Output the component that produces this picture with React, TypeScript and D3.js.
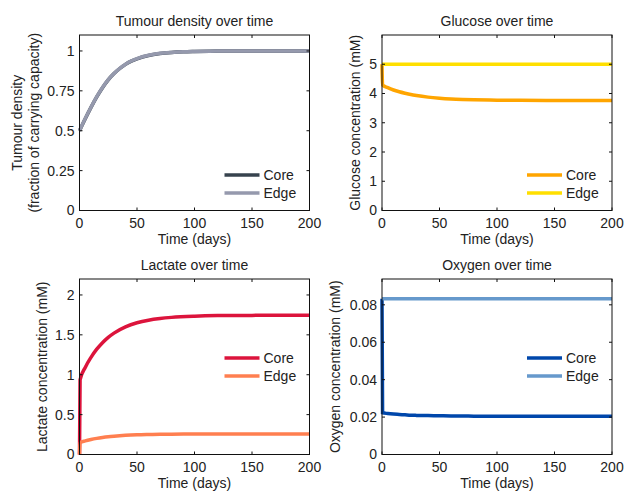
import React from "react";
import * as d3 from "d3";

// ---- data ----
const tumourDays = [0, 5, 10, 15, 20, 25, 30, 35, 40, 45, 50, 60, 70, 80, 90, 100, 120, 140, 160, 180, 200];
const tumourCore = [0.5, 0.575, 0.646, 0.712, 0.77, 0.819, 0.858, 0.89, 0.916, 0.936, 0.951, 0.972, 0.984, 0.991, 0.995, 0.997, 0.999, 1, 1, 1, 1];
const tumourEdge = [0.5, 0.576, 0.647, 0.713, 0.771, 0.82, 0.859, 0.891, 0.917, 0.937, 0.952, 0.973, 0.985, 0.991, 0.995, 0.997, 0.999, 1, 1, 1, 1];

const solDays = [0, 0.5, 5, 10, 15, 20, 25, 30, 40, 50, 60, 70, 80, 100, 120, 150, 200];
const glucoseCore = [5, 4.29, 4.2, 4.12, 4.06, 4.01, 3.965, 3.93, 3.876, 3.84, 3.814, 3.797, 3.785, 3.772, 3.765, 3.762, 3.76];
const glucoseEdge = [5, 5, 5, 5, 5, 5, 5, 5, 5, 5, 5, 5, 5, 5, 5, 5, 5];
const lactateCore = [0, 0.935, 1.092, 1.218, 1.32, 1.402, 1.469, 1.522, 1.6, 1.651, 1.684, 1.705, 1.719, 1.734, 1.741, 1.744, 1.745];
const lactateEdge = [0, 0.148, 0.17, 0.188, 0.202, 0.213, 0.222, 0.229, 0.24, 0.247, 0.251, 0.254, 0.255, 0.257, 0.258, 0.258, 0.258];
const oxygenCore = [0.0832, 0.0223, 0.0219, 0.0216, 0.0214, 0.0212, 0.021, 0.0209, 0.0208, 0.0207, 0.0206, 0.0206, 0.0205, 0.0205, 0.0205, 0.0205, 0.0205];
const oxygenEdge = [0.0832, 0.0832, 0.0832, 0.0832, 0.0832, 0.0832, 0.0832, 0.0832, 0.0832, 0.0832, 0.0832, 0.0832, 0.0832, 0.0832, 0.0832, 0.0832, 0.0832];

const xTicks = [0, 50, 100, 150, 200];
const seriesNames = ["Core", "Edge"];

const FONT = "'Liberation Sans', Arial, Helvetica, sans-serif";

type Panel = {
  title: string;
  ylabel: string[];
  ylabelOffsets: number[];
  days: number[];
  core: number[];
  edge: number[];
  colors: [string, string];
  yMax: number;
  yTicks: number[];
  yFmt: (v: number) => string;
  left: number;
  top: number;
  legendY: number;
};

const W = 230;
const H = 175.5;

const panels: Panel[] = [
  {
    title: "Tumour density over time",
    ylabel: ["Tumour density", "(fraction of carrying capacity)"],
    ylabelOffsets: [-58, -41],
    days: tumourDays,
    core: tumourCore,
    edge: tumourEdge,
    colors: ["#37434e", "#9599ad"],
    yMax: 1.1,
    yTicks: [0, 0.25, 0.5, 0.75, 1],
    yFmt: (v) => String(v),
    left: 79.5,
    top: 35,
    legendY: 140,
  },
  {
    title: "Glucose over time",
    ylabel: ["Glucose concentration (mM)"],
    ylabelOffsets: [-22],
    days: solDays,
    core: glucoseCore,
    edge: glucoseEdge,
    colors: ["#ffa500", "#ffdf00"],
    yMax: 6,
    yTicks: [0, 1, 2, 3, 4, 5],
    yFmt: (v) => String(v),
    left: 382,
    top: 35,
    legendY: 140,
  },
  {
    title: "Lactate over time",
    ylabel: ["Lactate concentration (mM)"],
    ylabelOffsets: [-33],
    days: solDays,
    core: lactateCore,
    edge: lactateEdge,
    colors: ["#dc143c", "#ff7f50"],
    yMax: 2.2,
    yTicks: [0, 0.5, 1, 1.5, 2],
    yFmt: (v) => String(v),
    left: 79.5,
    top: 279,
    legendY: 79,
  },
  {
    title: "Oxygen over time",
    ylabel: ["Oxygen concentration (mM)"],
    ylabelOffsets: [-42],
    days: solDays,
    core: oxygenCore,
    edge: oxygenEdge,
    colors: ["#0047ab", "#6699cc"],
    yMax: 0.0938,
    yTicks: [0, 0.02, 0.04, 0.06, 0.08],
    yFmt: (v) => (v === 0 ? "0" : v.toFixed(2)),
    left: 382,
    top: 279,
    legendY: 79,
  },
];

function PanelView({ p }: { p: Panel }) {
  const x = d3.scaleLinear().domain([0, 200]).range([0, W]);
  const y = d3.scaleLinear().domain([0, p.yMax]).range([H, 0]);
  const line = d3
    .line<number>()
    .x((_, i) => x(p.days[i]))
    .y((d) => y(d))
    .curve(d3.curveMonotoneX);
  const tl = 3;
  return (
    <g transform={`translate(${p.left},${p.top})`} fontFamily={FONT} fill="#222">
      <text x={W / 2} y={-9} textAnchor="middle" fontSize={14}>
        {p.title}
      </text>
      <path d={line(p.core) || ""} fill="none" stroke={p.colors[0]} strokeWidth={3.5} />
      <path d={line(p.edge) || ""} fill="none" stroke={p.colors[1]} strokeWidth={3.5} />
      <rect x={0} y={0} width={W} height={H} fill="none" stroke="#111" strokeWidth={1} />
      {xTicks.map((t) => (
        <g key={"x" + t}>
          <line x1={x(t)} x2={x(t)} y1={H} y2={H - tl} stroke="#111" />
          <line x1={x(t)} x2={x(t)} y1={0} y2={tl} stroke="#111" />
          <text x={x(t)} y={H + 17} textAnchor="middle" fontSize={14}>
            {t}
          </text>
        </g>
      ))}
      {p.yTicks.map((t) => (
        <g key={"y" + t}>
          <line x1={0} x2={tl} y1={y(t)} y2={y(t)} stroke="#111" />
          <line x1={W} x2={W - tl} y1={y(t)} y2={y(t)} stroke="#111" />
          <text x={-5} y={y(t)} dy="0.35em" textAnchor="end" fontSize={14}>
            {p.yFmt(t)}
          </text>
        </g>
      ))}
      <text x={W / 2} y={H + 33} textAnchor="middle" fontSize={14}>
        Time (days)
      </text>
      {p.ylabel.map((s, i) => (
        <text
          key={s}
          transform={`translate(${p.ylabelOffsets[i]},${H / 2}) rotate(-90)`}
          textAnchor="middle"
          fontSize={14}
        >
          {s}
        </text>
      ))}
      {seriesNames.map((n, i) => (
        <g key={n} transform={`translate(${W - 85},${p.legendY + i * 18})`}>
          <line x1={0} x2={35} y1={0} y2={0} stroke={p.colors[i]} strokeWidth={3.5} />
          <text x={39} y={0} dy="0.35em" fontSize={14}>
            {n}
          </text>
        </g>
      ))}
    </g>
  );
}

export default function App() {
  return (
    <svg
      width={624}
      height={491}
      style={{ position: "absolute", left: 0, top: 0, background: "#fff" }}
    >
      <rect width={624} height={491} fill="#fff" />
      {panels.map((p) => (
        <PanelView key={p.title} p={p} />
      ))}
    </svg>
  );
}
